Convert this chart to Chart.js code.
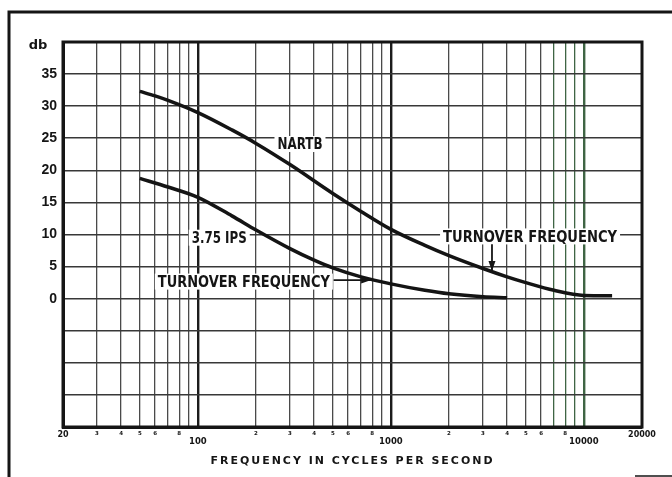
<!DOCTYPE html>
<html>
<head>
<meta charset="utf-8">
<script src="https://cdn.jsdelivr.net/npm/chart.js@4.4.1/dist/chart.umd.min.js"></script>
<style>
  html, body { margin: 0; padding: 0; background: #fff; }
  canvas { display: block; }
</style>
</head>
<body>
<canvas id="eqChart" width="672" height="477"></canvas>
<script>
// Values (frequency in c/s, level in db)
var nartbFreqs = [50, 60, 70, 100, 150, 200, 300, 500, 700, 1000, 1500, 2000, 3000, 4000, 5000, 7000, 10000, 14000];
var nartbDb = [32.3, 31.6, 30.9, 29.0, 26.3, 24.2, 20.9, 16.4, 13.6, 10.8, 8.3, 6.7, 4.7, 3.4, 2.5, 1.3, 0.5, 0.45];
var ipsFreqs = [50, 70, 100, 150, 200, 300, 400, 500, 700, 1000, 1500, 2000, 3000, 4000];
var ipsDb = [18.75, 17.4, 15.8, 12.9, 10.7, 7.8, 6.0, 4.8, 3.4, 2.3, 1.3, 0.75, 0.3, 0.15];

// Axis ticks
var xTicks = [20, 30, 40, 50, 60, 70, 80, 90, 100, 200, 300, 400, 500, 600, 700, 800, 900,
              1000, 2000, 3000, 4000, 5000, 6000, 7000, 8000, 9000, 10000, 20000];
var xDigitTicks = [30, 40, 50, 60, 80, 200, 300, 400, 500, 600, 800, 2000, 3000, 4000, 5000, 6000, 8000];
var xDecadeTicks = [100, 1000, 10000];
var yLabelTicks = [0, 5, 10, 15, 20, 25, 30, 35];

// Text notes placed in data units
var notes = [
  { text: 'NARTB', f: 338, db: 24.1, w: 45 },
  { text: '3.75 IPS', f: 129, db: 9.5, w: 55 },
  { text: 'TURNOVER FREQUENCY', f: 173, db: 2.66, w: 172 },
  { text: 'TURNOVER FREQUENCY', f: 5260, db: 9.7, w: 174 }
];
var arrows = [
  { from: [505, 2.9], to: [790, 2.9] },
  { from: [3340, 8.5], to: [3340, 4.3] }
];

function pairs(xs, ys) {
  return xs.map(function (x, i) { return { x: x, y: ys[i] }; });
}

function fitText(ctx, text, cx, cy, w) {
  var m = ctx.measureText(text).width;
  ctx.save();
  ctx.translate(cx, cy);
  ctx.scale(w / m, 1);
  ctx.fillText(text, 0, 0);
  ctx.restore();
}

var paperPlugin = {
  id: 'paper',
  afterDatasetsDraw: function (chart) {
    var ctx = chart.ctx;
    var a = chart.chartArea;
    var xs = chart.scales.x, ys = chart.scales.y;

    // heavy frame round the plot
    ctx.save();
    ctx.strokeStyle = '#151515';
    ctx.lineWidth = 3;
    ctx.strokeRect(a.left, a.top, a.right - a.left, a.bottom - a.top);

    // scan frame
    ctx.lineWidth = 3;
    ctx.beginPath();
    ctx.moveTo(9, 477); ctx.lineTo(9, 12); ctx.lineTo(672, 12);
    ctx.stroke();
    ctx.lineWidth = 1.5;
    ctx.beginPath();
    ctx.moveTo(635, 476); ctx.lineTo(672, 476);
    ctx.stroke();

    // notes
    ctx.textAlign = 'center';
    ctx.textBaseline = 'middle';
    ctx.font = 'bold 16px "DejaVu Sans Condensed", "DejaVu Sans"';
    notes.forEach(function (n) {
      var cx = xs.getPixelForValue(n.f);
      var cy = ys.getPixelForValue(n.db);
      ctx.fillStyle = '#fff';
      ctx.fillRect(cx - n.w / 2 - 3, cy - 8, n.w + 6, 16);
      ctx.fillStyle = '#151515';
      fitText(ctx, n.text, cx, cy + 1, n.w);
    });

    // arrows
    ctx.strokeStyle = '#151515';
    ctx.fillStyle = '#151515';
    ctx.lineWidth = 1.8;
    arrows.forEach(function (ar) {
      var x1 = xs.getPixelForValue(ar.from[0]), y1 = ys.getPixelForValue(ar.from[1]);
      var x2 = xs.getPixelForValue(ar.to[0]), y2 = ys.getPixelForValue(ar.to[1]);
      var ang = Math.atan2(y2 - y1, x2 - x1);
      ctx.beginPath();
      ctx.moveTo(x1, y1); ctx.lineTo(x2, y2);
      ctx.stroke();
      ctx.beginPath();
      ctx.moveTo(x2, y2);
      ctx.lineTo(x2 - 10 * Math.cos(ang) + 3.5 * Math.sin(ang), y2 - 10 * Math.sin(ang) - 3.5 * Math.cos(ang));
      ctx.lineTo(x2 - 10 * Math.cos(ang) - 3.5 * Math.sin(ang), y2 - 10 * Math.sin(ang) + 3.5 * Math.cos(ang));
      ctx.closePath();
      ctx.fill();
    });

    // unit label and axis title
    ctx.fillStyle = '#151515';
    ctx.font = 'bold 13px "DejaVu Sans"';
    ctx.fillText('db', a.left - 25, a.top + 4);

    ctx.font = 'bold 11px "DejaVu Sans"';
    ctx.letterSpacing = '2px';
    fitText(ctx, 'FREQUENCY IN CYCLES PER SECOND', (a.left + a.right) / 2, 461, 284);
    ctx.letterSpacing = '0px';
    ctx.restore();
  }
};

var lineStyle = {
  borderColor: '#141414',
  borderWidth: 3.5,
  pointRadius: 0,
  fill: false,
  cubicInterpolationMode: 'monotone'
};

new Chart(document.getElementById('eqChart').getContext('2d'), {
  type: 'line',
  data: {
    datasets: [
      Object.assign({ label: 'NARTB', data: pairs(nartbFreqs, nartbDb) }, lineStyle),
      Object.assign({ label: '3.75 IPS', data: pairs(ipsFreqs, ipsDb) }, lineStyle)
    ]
  },
  options: {
    responsive: false,
    animation: false,
    devicePixelRatio: 1,
    layout: { padding: { top: 42, right: 30, left: 0, bottom: 0 } },
    plugins: {
      legend: { display: false },
      tooltip: { enabled: false }
    },
    scales: {
      x: {
        type: 'logarithmic',
        min: 20,
        max: 20000,
        afterFit: function (s) { s.height = 50; },
        afterBuildTicks: function (s) {
          s.ticks = xTicks.map(function (v) { return { value: v }; });
        },
        border: { display: true, width: 3, color: '#151515' },
        grid: {
          drawTicks: false,
          color: function (c) {
            var v = c.tick && c.tick.value;
            if (v >= 7000 && v <= 10000) return '#3f6544';
            return xDecadeTicks.indexOf(v) >= 0 ? '#1c1c1c' : '#4a4a4a';
          },
          lineWidth: function (c) {
            var v = c.tick && c.tick.value;
            return xDecadeTicks.indexOf(v) >= 0 ? 2.4 : 1.3;
          }
        },
        ticks: {
          autoSkip: false,
          maxRotation: 0,
          padding: 3,
          color: '#151515',
          font: function (c) {
            var v = c.tick && c.tick.value;
            if (xDecadeTicks.indexOf(v) >= 0) return { family: '"DejaVu Sans"', size: 8.5, weight: 'bold', lineHeight: 0.95 };
            if (v === 20 || v === 20000) return { family: '"DejaVu Sans"', size: 8, weight: 'bold' };
            return { family: '"DejaVu Sans"', size: 5.5, weight: 'bold' };
          },
          callback: function (v) {
            if (xDecadeTicks.indexOf(v) >= 0) return ['', String(v)];
            if (v === 20 || v === 20000) return String(v);
            if (xDigitTicks.indexOf(v) >= 0) return String(v).charAt(0);
            return '';
          }
        }
      },
      y: {
        type: 'linear',
        min: -20,
        max: 40,
        afterFit: function (s) { s.width = 63; },
        border: { display: true, width: 3, color: '#151515' },
        grid: {
          drawTicks: false,
          color: '#383838',
          lineWidth: 1.6
        },
        ticks: {
          stepSize: 5,
          padding: 6,
          color: '#151515',
          font: { family: '"Liberation Sans"', size: 14, weight: 'bold' },
          callback: function (v) {
            return yLabelTicks.indexOf(v) >= 0 ? String(v) : '';
          }
        }
      }
    }
  },
  plugins: [paperPlugin]
});
</script>
</body>
</html>
